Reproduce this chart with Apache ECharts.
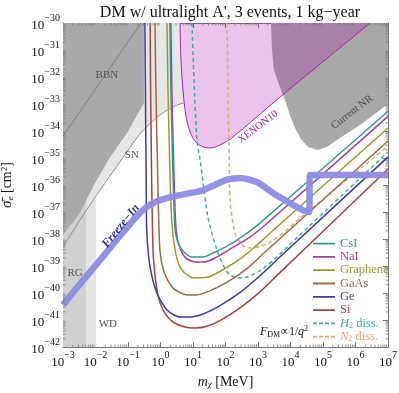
<!DOCTYPE html>
<html>
<head>
<meta charset="utf-8">
<script src="https://cdn.jsdelivr.net/npm/echarts@6.0.0/dist/echarts.min.js"></script>
<style>
  html, body { margin: 0; padding: 0; background: #fff; }
  #chart { width: 399px; height: 393px; }
</style>
</head>
<body>
<div id="chart"></div>
<script>
// all points: [log10(m_chi / MeV), log10(sigma_e / cm^2)]
const xTicks = [-3, -2, -1, 0, 1, 2, 3, 4, 5, 6, 7]
const yTicks = [-42, -41, -40, -39, -38, -37, -36, -35, -34, -33, -32, -31, -30]

// excluded regions
const bbnRegion = [[-3, -30], [-0.51, -30], [-0.51, -32.96], [-0.63, -33.22], [-1.03, -34.07], [-1.55, -34.96], [-2.08, -36.07], [-2.48, -37.04], [-3, -37.85]]
const bbnLine = [[-3, -34.19], [-0.6, -30]]
const snLine = [[-3, -38.3], [-2.48, -37.3], [-1.86, -36.19], [-1.25, -35.15], [-0.63, -34.11], [-0.02, -33.41], [0.45, -33.07], [0.72, -32.96]]
const snTop = [[0.69, -32.48], [0.63, -31.37], [0.6, -30], [-3, -30]]
const rgRegion = [[-3, -42], [-2.29, -42], [-2.29, -30], [-3, -30]]
const wdRegion = [[-2.29, -42], [-1.98, -42], [-1.98, -30], [-2.29, -30]]
const xenon10 = [[0.6, -30], [0.63, -31.37], [0.69, -32.48], [0.78, -33.41], [0.91, -34.04], [1.09, -34.41], [1.31, -34.59], [1.52, -34.63], [1.83, -34.52], [2.23, -34.22], [3.68, -32.74], [6.45, -30]]
const currentNR = [[3.4, -30], [3.43, -31], [3.49, -31.74], [3.65, -32.3], [3.83, -32.85], [3.98, -33.41], [4.14, -33.89], [4.32, -34.3], [4.54, -34.59], [4.82, -34.7], [5.12, -34.59], [5.52, -34.26], [6.14, -33.78], [7, -33], [7, -30]]

// freeze-in target
const freezeIn = [[-3, -40.44], [-2.48, -39.67], [-1.86, -38.78], [-1.25, -37.89], [-0.78, -37.22], [-0.42, -36.81], [-0.02, -36.56], [0.45, -36.41], [0.91, -36.3], [1.3, -36.2], [1.7, -35.98], [2.05, -35.8], [2.45, -35.74], [2.97, -35.89], [3.46, -36.3], [3.98, -36.67], [4.38, -36.93], [4.57, -37], [4.6, -35.63], [7, -35.63]]

// reach curves
const csI = [[0.29, -30], [0.32, -32.48], [0.38, -35.44], [0.45, -37.67], [0.57, -38.22], [0.72, -38.48], [0.97, -38.67], [1.31, -38.67], [1.62, -38.52], [2.14, -38.2], [2.66, -37.78], [3.06, -37.41], [7, -33.27]]
const naI = [[0.32, -30], [0.35, -32.48], [0.41, -35.44], [0.48, -37.67], [0.6, -38.33], [0.78, -38.7], [1.06, -38.85], [1.37, -38.85], [1.68, -38.7], [2.2, -38.33], [2.75, -37.93], [3.22, -37.48], [7, -33.46]]
const graphene = [[0.2, -30], [0.23, -32.48], [0.29, -35.44], [0.35, -37.41], [0.48, -38.59], [0.66, -39.15], [1, -39.44], [1.43, -39.42], [1.83, -39.2], [2.35, -38.82], [2.85, -38.35], [3.4, -37.75], [7, -33.89]]
const gaAs = [[-0.17, -30], [-0.14, -32.5], [-0.09, -35.4], [-0.02, -38.4], [0.11, -39.22], [0.38, -39.81], [0.82, -40.07], [1.12, -40.07], [1.52, -39.92], [2.05, -39.6], [2.66, -39.1], [3.2, -38.5], [7, -34.37]]
const ge = [[-0.48, -30], [-0.46, -33], [-0.44, -36], [-0.42, -37.78], [-0.32, -39.04], [-0.11, -40], [0.2, -40.63], [0.6, -40.89], [0.91, -40.89], [1.31, -40.78], [1.83, -40.47], [2.45, -39.98], [3.06, -39.36], [3.6, -38.75], [7, -34.96]]
const si = [[-0.32, -30], [-0.3, -33], [-0.27, -36], [-0.23, -38.41], [-0.17, -39.33], [-0.08, -40.07], [0.08, -40.63], [0.35, -41.04], [0.75, -41.26], [1.06, -41.3], [1.45, -41.22], [1.83, -41.02], [2.45, -40.55], [3.06, -39.96], [3.6, -39.33], [7, -35.41]]
const h2Diss = [[0.97, -30], [1.03, -32.11], [1.12, -34.33], [1.22, -35.07], [1.31, -35.93], [1.46, -37.19], [1.74, -38.41], [2.05, -39.22], [2.35, -39.44], [2.66, -39.41], [3.06, -39.18], [3.6, -38.65], [4.2, -37.95], [7, -34.78]]
const n2Diss = [[2.05, -30], [2.08, -32.85], [2.11, -34.63], [2.14, -36.56], [2.29, -37.78], [2.51, -38.22], [2.75, -38.33], [3.06, -38.28], [3.4, -38.1], [3.8, -37.75], [4.3, -37.22], [7, -34.56]]

// text in the plot: [text, x, y, rotate(deg)]
const regionLabels = [
  ['BBN', -1.65, -31.93, 0],
  ['SN', -0.88, -34.89, 0],
  ['RG', -2.63, -39.26, 0],
  ['WD', -1.62, -41.15, 0]
]

const serif = 'Liberation Serif'
const chartDom = document.getElementById('chart')
const myChart = echarts.init(chartDom, null, { renderer: 'canvas' })

function polygonSeries(points, fill, z) {
  return {
    type: 'custom',
    silent: true,
    clip: true,
    z: z,
    data: [0],
    renderItem: function (params, api) {
      return {
        type: 'polygon',
        shape: { points: points.map((p) => api.coord(p)) },
        style: { fill: fill }
      }
    }
  }
}

function textSeries(pos, rot, style, z) {
  return {
    type: 'custom',
    silent: true,
    z: z || 10,
    data: [0],
    renderItem: function (params, api) {
      const c = api.coord(pos)
      return {
        type: 'text',
        x: c[0],
        y: c[1],
        rotation: (rot * Math.PI) / 180,
        style: Object.assign({ align: 'center', verticalAlign: 'middle', fontFamily: serif }, style)
      }
    }
  }
}

function lineSeries(name, data, color, dashed) {
  return {
    name: name,
    type: 'line',
    data: data,
    symbol: 'none',
    smooth: 0.25,
    silent: true,
    z: 5,
    lineStyle: { color: color, width: 1.5, type: dashed ? [4, 3] : 'solid' },
    itemStyle: { color: color }
  }
}

const minorTickSeries = {
  type: 'custom',
  silent: true,
  z: 20,
  data: [0],
  renderItem: function (params, api) {
    const ch = []
    const st = { stroke: '#777', lineWidth: 0.8 }
    for (let n = -3; n < 7; n++) {
      for (let k = 2; k < 10; k++) {
        const x = n + Math.log10(k)
        const b = api.coord([x, -42])
        const t = api.coord([x, -30])
        ch.push({ type: 'line', shape: { x1: b[0], y1: b[1], x2: b[0], y2: b[1] - 2.5 }, style: st })
        ch.push({ type: 'line', shape: { x1: t[0], y1: t[1], x2: t[0], y2: t[1] + 2.5 }, style: st })
      }
    }
    for (let n = -42; n < -30; n++) {
      for (let k = 2; k < 10; k++) {
        const y = n + Math.log10(k)
        const l = api.coord([-3, y])
        const r = api.coord([7, y])
        ch.push({ type: 'line', shape: { x1: l[0], y1: l[1], x2: l[0] + 2.5, y2: l[1] }, style: st })
        ch.push({ type: 'line', shape: { x1: r[0], y1: r[1], x2: r[0] - 2.5, y2: r[1] }, style: st })
      }
    }
    return { type: 'group', children: ch }
  }
}

function powLabel(v) {
  return '{b|10}{s|' + (v < 0 ? '\u2212' + -v : v) + '}'
}
const powRich = {
  b: { fontSize: 13, fontFamily: serif, color: '#111', lineHeight: 19, verticalAlign: 'bottom' },
  s: { fontSize: 10, fontFamily: serif, color: '#111', lineHeight: 11, verticalAlign: 'top' }
}

const frameAxis = {
  axisLine: { show: true, onZero: false, lineStyle: { color: '#777', width: 1 } },
  axisTick: { show: true, inside: true, length: 5, lineStyle: { color: '#777' } },
  splitLine: { show: false }
}

// legend icons: a thin bar, solid or dashed, inside a 22x10 box
const solidIcon = 'path://M0,0L0,0.01M0,4.2h22v1.8h-22zM22,10L22,10.01'
const dashIcon = 'path://M0,0L0,0.01M0,4.2h4v1.8h-4zM6,4.2h4v1.8h-4zM12,4.2h4v1.8h-4zM18,4.2h4v1.8h-4zM22,10L22,10.01'
const legendItems = [
  ['CsI', '#319a9a', solidIcon],
  ['NaI', '#a43ca8', solidIcon],
  ['Graphene', '#9a9a2c', solidIcon],
  ['GaAs', '#9b6a3e', solidIcon],
  ['Ge', '#3a3aa8', solidIcon],
  ['Si', '#a8403c', solidIcon],
  ['H2 diss.', '#3aacac', dashIcon],
  ['N2 diss.', '#e3a672', dashIcon]
]

const option = {
  animation: false,
  backgroundColor: '#fff',
  title: {
    text: "DM w/ ultralight A', 3 events, 1 kg\u2212year",
    left: 225,
    textAlign: 'center',
    top: 0,
    textStyle: { fontFamily: serif, fontSize: 16, fontWeight: 'normal', color: '#111' }
  },
  grid: { left: 63, right: 11, top: 23, bottom: 46, containLabel: false, outerBoundsMode: 'none' },
  legend: {
    show: true,
    orient: 'vertical',
    left: 308,
    top: 232,
    itemWidth: 22,
    itemHeight: 10,
    itemGap: 0.3,
    selectedMode: false,
    data: legendItems.map((d) => ({ name: d[0], icon: d[2], textStyle: { color: d[1] } })),
    formatter: function (name) {
      if (name === 'H2 diss.') return '{i|H}{sub|2} diss.'
      if (name === 'N2 diss.') return '{i|N}{sub|2} diss.'
      return name
    },
    textStyle: {
      fontFamily: serif,
      fontSize: 12.5,
      lineHeight: 13,
      rich: {
        i: { fontStyle: 'italic', fontFamily: serif, fontSize: 12.5, lineHeight: 13 },
        sub: { fontFamily: serif, fontSize: 8, verticalAlign: 'bottom', lineHeight: 11 }
      }
    }
  },
  xAxis: [
    Object.assign({
      type: 'value',
      min: -3,
      max: 7,
      interval: 1,
      name: '{i|m}{sub|\u03c7} [MeV]',
      nameLocation: 'middle',
      nameGap: 28,
      nameTextStyle: {
        fontFamily: serif,
        fontSize: 14,
        color: '#111',
        rich: {
          i: { fontStyle: 'italic', fontFamily: serif, fontSize: 14 },
          sub: { fontStyle: 'italic', fontFamily: serif, fontSize: 9, verticalAlign: 'bottom', lineHeight: 14 }
        }
      },
      axisLabel: { formatter: powLabel, rich: powRich, margin: 3 }
    }, frameAxis),
    Object.assign({
      type: 'value',
      position: 'top',
      min: -3,
      max: 7,
      interval: 1,
      axisLabel: { show: false }
    }, frameAxis)
  ],
  yAxis: [
    Object.assign({
      type: 'value',
      min: -42,
      max: -30,
      interval: 1,
      name: '{i|\u03c3\u0304}{sub|e} [cm{sup|2}]',
      nameLocation: 'middle',
      nameRotate: 90,
      nameGap: 48,
      nameTextStyle: {
        fontFamily: serif,
        fontSize: 14,
        color: '#111',
        rich: {
          i: { fontStyle: 'italic', fontFamily: serif, fontSize: 15 },
          sub: { fontStyle: 'italic', fontFamily: serif, fontSize: 9, verticalAlign: 'bottom', lineHeight: 14 },
          sup: { fontFamily: serif, fontSize: 9, verticalAlign: 'top', lineHeight: 10 }
        }
      },
      axisLabel: { formatter: powLabel, rich: powRich, margin: 3 }
    }, frameAxis),
    Object.assign({
      type: 'value',
      position: 'right',
      min: -42,
      max: -30,
      interval: 1,
      axisLabel: { show: false }
    }, frameAxis)
  ],
  series: [
    polygonSeries(snLine.concat(snTop), '#e6e6e6', 1),
    polygonSeries(wdRegion, '#e4e4e4', 1),
    polygonSeries(rgRegion, '#d0d0d0', 1),
    polygonSeries(bbnRegion, '#a9a9a9', 1),
    polygonSeries(currentNR, '#a8a8a8', 1),
    polygonSeries(xenon10, 'rgba(168,0,168,0.23)', 2),
    { type: 'line', data: bbnLine, symbol: 'none', silent: true, z: 3, lineStyle: { color: '#777', width: 0.8 } },
    { type: 'line', data: snLine, symbol: 'none', smooth: 0.3, silent: true, z: 3, lineStyle: { color: '#777', width: 0.8 } },
    { type: 'line', data: xenon10, symbol: 'none', smooth: 0.3, silent: true, z: 3, lineStyle: { color: '#b01cb0', width: 1 } },
    lineSeries('N2 diss.', n2Diss, '#e3a672', true),
    lineSeries('H2 diss.', h2Diss, '#3aacac', true),
    lineSeries('Si', si, '#a8403c'),
    lineSeries('Ge', ge, '#3a3aa8'),
    lineSeries('GaAs', gaAs, '#9b6a3e'),
    lineSeries('Graphene', graphene, '#9a9a2c'),
    lineSeries('NaI', naI, '#a43ca8'),
    lineSeries('CsI', csI, '#319a9a'),
    {
      type: 'line', data: freezeIn, symbol: 'none', smooth: 0.2, silent: true, z: 6,
      lineStyle: { color: '#8c8ce4', width: 6.5, join: 'round', cap: 'butt', opacity: 0.95 }
    },
    minorTickSeries,
    ...regionLabels.map((d) => textSeries([d[1], d[2]], d[3], { text: d[0], fill: '#555', fontSize: 11 })),
    textSeries([3, -33.85], 37, { text: 'XENON10', fill: '#a020a0', fontSize: 10.5 }),
    textSeries([5.89, -33.3], 37, { text: 'Current NR', fill: '#4a4a4a', fontSize: 10.5 }),
    textSeries([-1.22, -37.52], 51, { text: 'Freeze\u2212In', fill: '#2c2ca0', fontSize: 12, fontWeight: 'bold', fontStyle: 'italic' }),
    textSeries([3.8, -41.45], 0, {
      text: '{i|F}{sub|DM}\u221d1/{i|q}{sup|2}',
      fill: '#111',
      fontSize: 11.5,
      rich: {
        i: { fontStyle: 'italic', fontFamily: serif, fontSize: 12 },
        sub: { fontFamily: serif, fontSize: 8, verticalAlign: 'bottom', lineHeight: 14 },
        sup: { fontFamily: serif, fontSize: 8, verticalAlign: 'top', lineHeight: 10 }
      }
    })
  ]
}

myChart.setOption(option)
</script>
</body>
</html>
